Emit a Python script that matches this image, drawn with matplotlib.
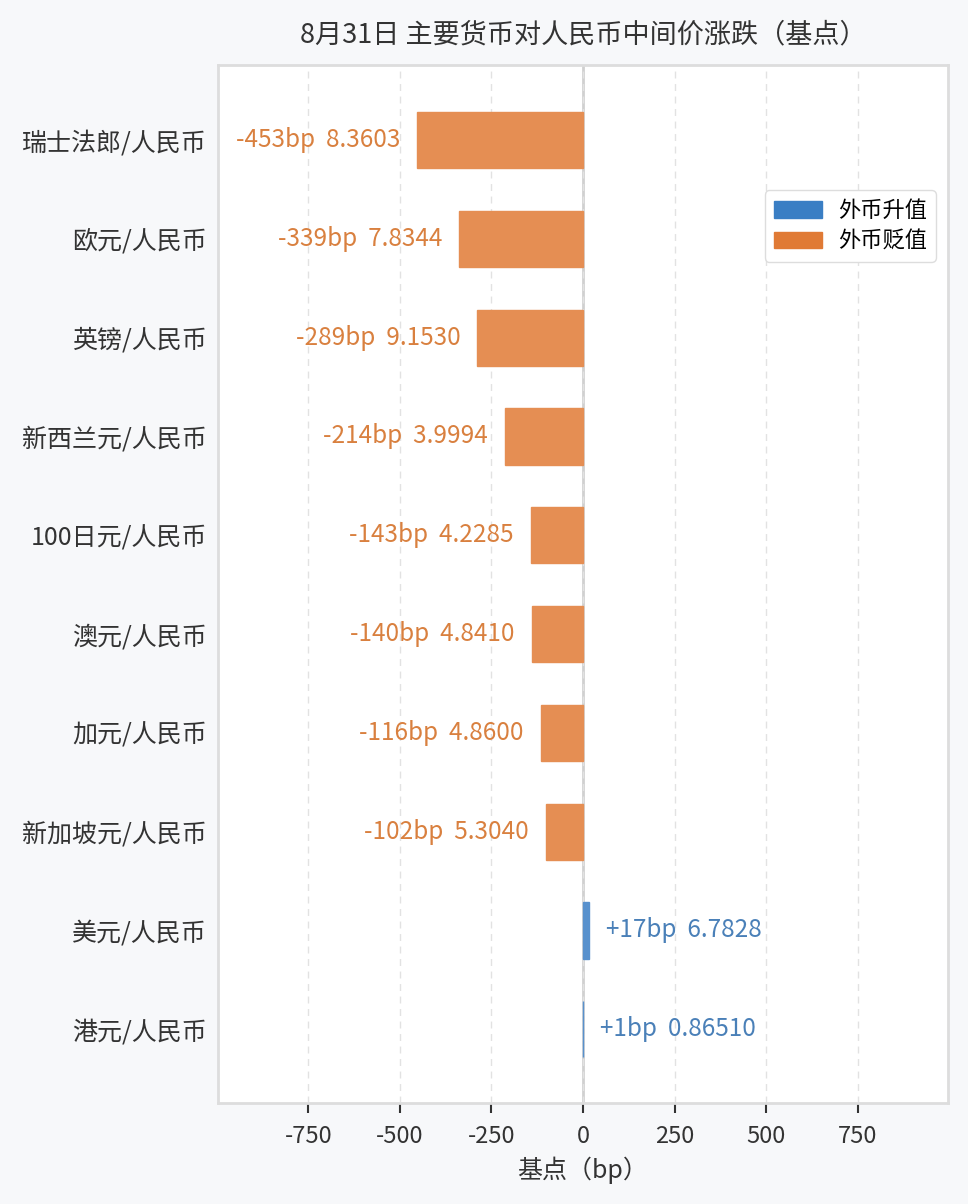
import numpy as np
import matplotlib
matplotlib.use("Agg")
from matplotlib import pyplot as plt
from matplotlib.patches import Patch
from matplotlib.colors import to_rgb

plt.rcParams['font.family'] = ['Noto Sans CJK SC', 'DejaVu Sans']
plt.rcParams['axes.unicode_minus'] = False

# data (top to bottom)
pairs = ["瑞士法郎/人民币", "欧元/人民币", "英镑/人民币", "新西兰元/人民币",
         "100日元/人民币", "澳元/人民币", "加元/人民币", "新加坡元/人民币",
         "美元/人民币", "港元/人民币"]
change_bp = [-453, -339, -289, -214, -143, -140, -116, -102, 17, 1]
mid_rate = ["8.3603", "7.8344", "9.1530", "3.9994", "4.2285", "4.8410",
            "4.8600", "5.3040", "6.7828", "0.86510"]

up_color = "#3a7ec4"
down_color = "#e07a35"


def soften(c, a=0.85):
    # blend with white so edge and face look the same
    r = np.array(to_rgb(c))
    return tuple(a * r + (1 - a))


fig = plt.figure(figsize=(9.68, 12.04), dpi=100, facecolor="#f7f8fa")
ax = fig.add_axes([218/968, 1 - 1103/1204, 730/968, 1038/1204])
ax.set_facecolor("white")

y = np.arange(len(pairs))
colors = [soften(up_color) if v > 0 else soften(down_color) for v in change_bp]
ax.barh(y, change_bp, height=0.57, color=colors, edgecolor=colors,
        linewidth=1.0, zorder=2)

lim = max(abs(v) for v in change_bp) * 2.2
ax.set_xlim(-lim, lim)
ax.set_ylim(len(pairs) - 0.254, -0.76)

off = lim * 0.046
for i, (v, r) in enumerate(zip(change_bp, mid_rate)):
    txt = f"{v:+d}bp  {r}"
    if v > 0:
        ax.text(v + off, i, txt, ha="left", va="center", fontsize=17.5,
                color="#4a80b8", zorder=3)
    else:
        ax.text(v - off, i, txt, ha="right", va="center", fontsize=17.5,
                color="#d9803f", zorder=3)

ax.axvline(0, color="#d0d0d0", lw=2, zorder=1)
ax.set_xticks([-750, -500, -250, 0, 250, 500, 750])
ax.grid(axis="x", ls=(0, (5, 4)), color="#e2e2e2", lw=1, zorder=0)
ax.set_yticks(y)
ax.set_yticklabels(pairs, fontsize=18)
ax.tick_params(axis="y", length=0, pad=8, colors="#333333")
ax.tick_params(axis="x", length=7, width=1.5, labelsize=17, pad=9,
               colors="#333333")
for s in ax.spines.values():
    s.set_color("#dddddd")
    s.set_linewidth(2)

ax.set_xlabel("基点（bp）", fontsize=18, color="#333333", labelpad=6)
ax.set_title("8月31日 主要货币对人民币中间价涨跌（基点）", fontsize=19.5,
             color="#333333", pad=16)

handles = [Patch(color=up_color, label="外币升值"),
           Patch(color=down_color, label="外币贬值")]
ax.legend(handles=handles, loc="upper right", bbox_to_anchor=(0.9986, 0.89),
          fontsize=16, frameon=True, edgecolor="#dddddd", framealpha=1,
          handlelength=2.2, handleheight=0.75, borderpad=0.4,
          labelspacing=0.35, handletextpad=0.7)

fig.savefig("out.png", dpi=100, facecolor=fig.get_facecolor())
